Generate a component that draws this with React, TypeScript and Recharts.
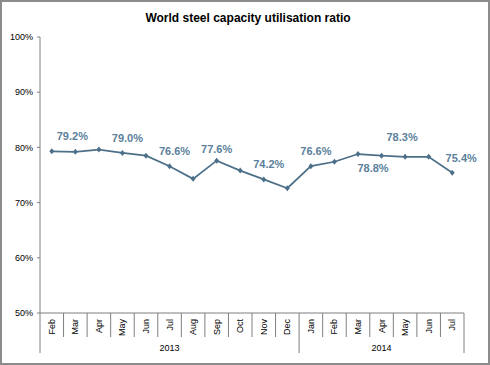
import React from "react";
import { LineChart, Line, XAxis, YAxis, LabelList } from "recharts";

const months = ["Feb","Mar","Apr","May","Jun","Jul","Aug","Sep","Oct","Nov","Dec","Jan","Feb","Mar","Apr","May","Jun","Jul"];
const years = ["2013","2013","2013","2013","2013","2013","2013","2013","2013","2013","2013","2014","2014","2014","2014","2014","2014","2014"];
const utilisation = [79.3, 79.2, 79.6, 79.0, 78.5, 76.6, 74.3, 77.6, 75.8, 74.2, 72.6, 76.6, 77.4, 78.8, 78.5, 78.3, 78.3, 75.4];
const labelled = [false, true, false, true, false, true, false, true, false, true, false, true, false, true, false, true, false, true];
const yTicks = [50, 60, 70, 80, 90, 100];
const yearGroups = [
  { year: "2013", first: 0, last: 10 },
  { year: "2014", first: 11, last: 17 },
];

const data = months.map((m, i) => ({ key: `${m}-${years[i]}`, month: m, year: years[i], value: utilisation[i], show: labelled[i] }));

const LINE = "#4d7089";
const LABEL = "#5b7f9b";
const AXIS = "#7f7f7f";
const FONT = "Arial, 'Liberation Sans', sans-serif";

const PLOT_W = 424;
const HALF = PLOT_W / months.length / 2;

const placement: Record<number, { dx: number; dy: number }> = {
  1: { dx: -3, dy: -12 },
  7: { dx: 0, dy: -8 },
  13: { dx: 15, dy: 18 },
  15: { dx: -3, dy: -16 },
  17: { dx: 9, dy: -11 },
};

const MonthTick = (props: any) => {
  const { x, y, payload, index } = props;
  const i = index ?? payload.index;
  const half = HALF;
  const left = x - half;
  const right = x + half;
  const isGroupStart = yearGroups.some((g) => g.first === i);
  const group = yearGroups.find((g) => g.first <= i && g.last >= i);
  const isLast = i === months.length - 1;
  const mid = group ? Math.floor((group.first + group.last) / 2) : -1;
  const top = y;
  return (
    <g>
      <line x1={left} x2={left} y1={top} y2={top + (isGroupStart ? 40 : 24)} stroke={AXIS} strokeWidth={1} />
      {isLast && <line x1={right} x2={right} y1={top} y2={top + 40} stroke={AXIS} strokeWidth={1} />}
      <text
        x={x}
        y={top + 6}
        transform={`rotate(-90, ${x}, ${top + 6})`}
        textAnchor="end"
        dominantBaseline="central"
        fontSize={9}
        fontFamily={FONT}
        fill="#000"
      >
        {months[i]}
      </text>
      {group && mid === i && (
        <text
          x={(group.last - group.first) % 2 === 0 ? x : x + half}
          y={top + 38}
          textAnchor="middle"
          fontSize={9}
          fontFamily={FONT}
          fill="#000"
        >
          {group.year}
        </text>
      )}
    </g>
  );
};

const renderLabel = (props: any) => {
  const { x, y, value, index } = props;
  if (!data[index] || !data[index].show) return null;
  const p = placement[index] || { dx: 5, dy: -11 };
  return (
    <text
      x={x + p.dx}
      y={y + p.dy}
      textAnchor="middle"
      fontSize={11}
      fontWeight="bold"
      fontFamily={FONT}
      fill={LABEL}
    >
      {`${Number(value).toFixed(1)}%`}
    </text>
  );
};

const Dot = (props: any) => {
  const { cx, cy, index } = props;
  if (cx == null || cy == null) return null;
  return <path key={`d${index}`} d={`M${cx} ${cy - 3}L${cx + 2.5} ${cy}L${cx} ${cy + 3}L${cx - 2.5} ${cy}Z`} fill={LINE} stroke="none" />;
};

export default function App() {
  return (
    <div
      style={{
        position: "absolute",
        left: 0,
        top: 0,
        width: 490,
        height: 365,
        boxSizing: "border-box",
        border: "2px solid #8c8c8c",
        background: "#fff",
        fontFamily: FONT,
      }}
    >
      <div
        style={{
          position: "absolute",
          left: 0,
          top: 9,
          width: 492,
          textAlign: "center",
          fontSize: 12,
          fontWeight: "bold",
          color: "#000",
        }}
      >
        World steel capacity utilisation ratio
      </div>
      <div style={{ position: "absolute", left: -2, top: -2 }}>
        <LineChart width={490} height={365} data={data} margin={{ top: 37, right: 26, left: 0, bottom: 0 }}>
          <XAxis
            dataKey="key"
            scale="band"
            interval={0}
            height={52}
            tickLine={false}
            tickSize={0}
            tickMargin={0}
            axisLine={{ stroke: AXIS }}
            tick={(p: any) => <MonthTick {...p} />}
          />
          <YAxis
            width={40}
            domain={[50, 100]}
            ticks={yTicks}
            tickFormatter={(v: number) => `${v}%`}
            tickSize={3}
            tickMargin={4}
            tickLine={{ stroke: AXIS }}
            axisLine={{ stroke: AXIS }}
            tick={{ fontSize: 9, fill: "#000", fontFamily: FONT }}
            interval={0}
          />
          <Line
            type="linear"
            dataKey="value"
            stroke={LINE}
            strokeWidth={1.75}
            dot={<Dot />}
            activeDot={false}
            isAnimationActive={false}
          >
            <LabelList dataKey="value" content={renderLabel} />
          </Line>
        </LineChart>
      </div>
    </div>
  );
}
